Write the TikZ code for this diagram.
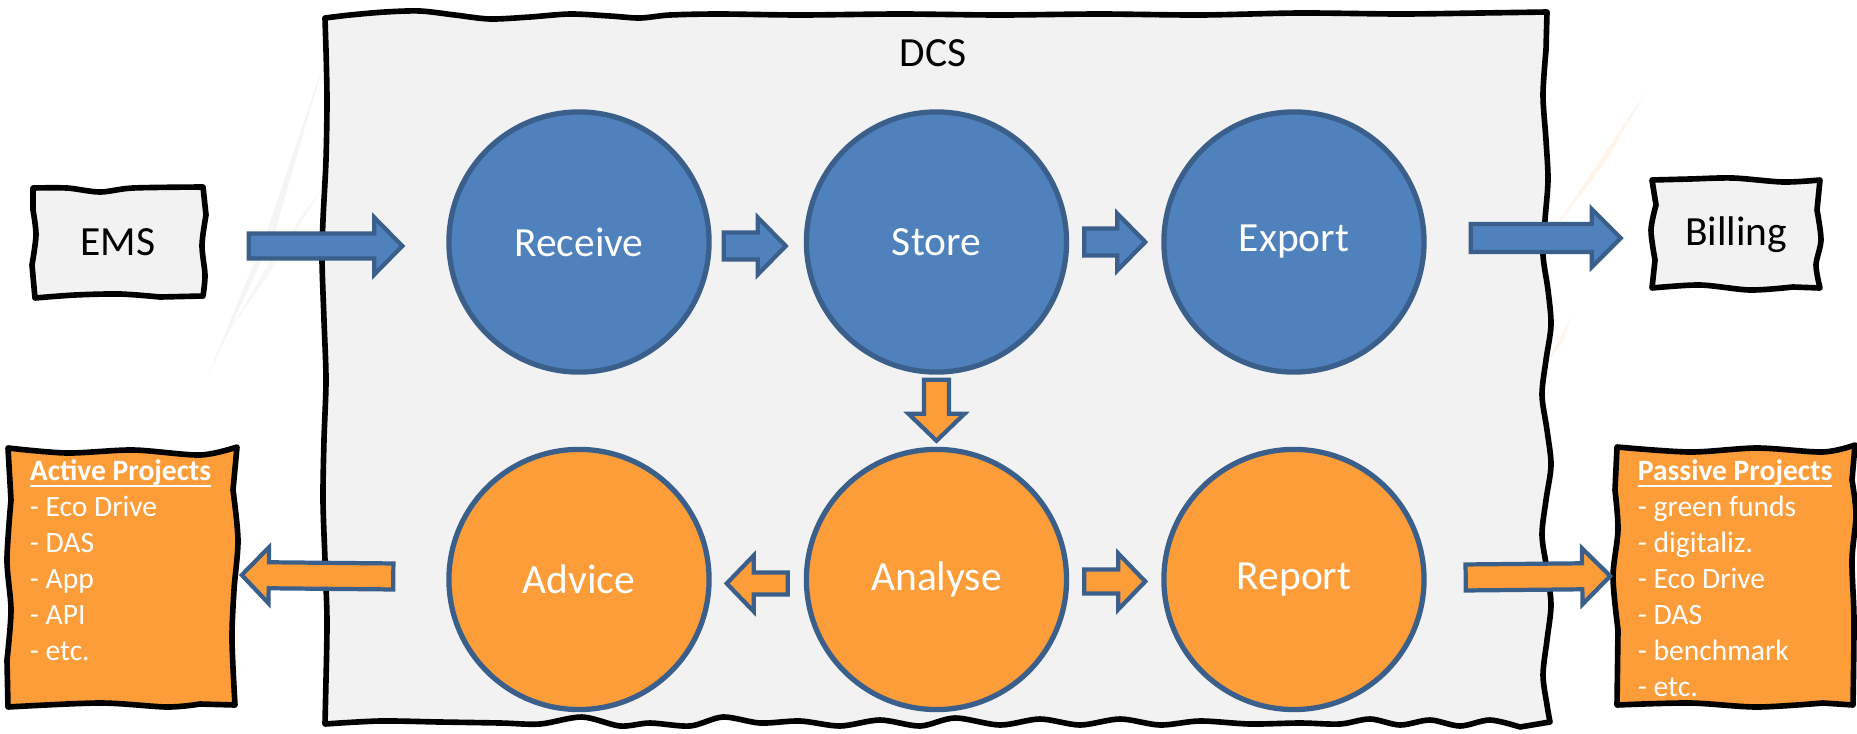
\documentclass[tikz,border=0pt]{standalone}
\usepackage{fontspec}
\setmainfont{Carlito}
\usetikzlibrary{positioning,calc}

\definecolor{paper}{HTML}{F2F2F2}
\definecolor{accblue}{HTML}{4F81BD}
\definecolor{darkblue}{HTML}{3A5F8B}
\definecolor{accorange}{RGB}{253,157,58}

\tikzset{
  sketch/.style={draw=black, line width=1.6pt, line join=round, line cap=round},
  proc/.style={circle, draw=darkblue, line width=1.5pt, minimum size=2.6cm, inner sep=0pt, text=white, font=\fontsize{11.8}{14}\selectfont},
  blueproc/.style={proc, fill=accblue},
  orangeproc/.style={proc, fill=accorange},
  boxtxt/.style={inner sep=0pt, font=\fontsize{11.8}{14}\selectfont},
  listtxt/.style={anchor=north west, inner sep=0pt, align=left, text=white, font=\fontsize{8.4}{10.2}\selectfont},
  bluearr/.style={fill=accblue, draw=darkblue, line width=1.2pt},
  orangearr/.style={fill=accorange, draw=darkblue, line width=1.2pt}
}

% block arrow: style, tail, tip, half shaft, half head, head length
\newcommand{\fatarrow}[6]{%
  \coordinate (fa-h) at ($(#3)!#6!(#2)$);
  \filldraw[#1] ($(#2)!#4!90:(#3)$) -- ($(fa-h)!#4!90:(#3)$) -- ($(fa-h)!#5!90:(#3)$) -- (#3)
    -- ($(fa-h)!#5!-90:(#3)$) -- ($(fa-h)!#4!-90:(#3)$) -- ($(#2)!#4!-90:(#3)$) -- cycle;}

\begin{document}
\begin{tikzpicture}[x=0.01cm, y=-0.01cm]
\useasboundingbox (0,0) rectangle (1857,733);

% faint streaks behind
\fill[black!4] (207,378) -- (268,228) -- (324,62) -- (275,232) -- cycle;
\fill[black!3] (228,333) -- (272,258) -- (324,185) -- (277,262) -- cycle;
\fill[accorange!10] (1549,236) -- (1600,160) -- (1646,92) -- (1605,163) -- cycle;
\fill[accorange!10] (1547,362) -- (1560,338) -- (1571,316) -- (1563,342) -- cycle;

% DCS frame
\draw[sketch, fill=paper]
  plot[smooth] coordinates {(325,18) (350,15) (385,12) (420,11) (455,15) (490,19) (530,17) (570,14) (610,16) (640,18) (670,15) (720,14) (800,15) (900,14) (1000,15) (1100,14) (1200,15) (1300,13) (1400,14) (1480,13) (1547,12)}
  -- plot[smooth] coordinates {(1546,50) (1543,95) (1546,140) (1548,180) (1545,220) (1543,255) (1548,290) (1551,325) (1546,360) (1542,395) (1547,430) (1551,465) (1546,500) (1542,535) (1547,570) (1551,605) (1547,640) (1543,675) (1547,705) (1550,722)}
  -- plot[smooth] coordinates {(1520,727) (1490,720) (1460,726) (1430,720) (1400,725) (1370,719) (1340,724) (1300,723) (1250,724) (1200,721) (1160,725) (1120,719) (1080,725) (1040,719) (1000,725) (955,718) (920,726) (880,720) (840,726) (800,721) (760,723) (723,717) (690,726) (650,723) (620,726) (582,717) (540,724) (500,723) (440,722) (380,721) (325,724)}
  -- plot[smooth] coordinates {(326,680) (327,620) (325,560) (323,500) (324,440) (326,380) (324,320) (322,260) (323,220) (326,160) (327,100) (326,50)} -- cycle;
\node[boxtxt] (dcs) at (933,53) {DCS};

% outside boxes
\draw[sketch, fill=paper]
  plot[smooth] coordinates {(33,188) (67,188) (100,192) (133,188) (203,187)}
  -- plot[smooth] coordinates {(206,215) (202,245) (205,275) (203,296)}
  -- plot[smooth] coordinates {(160,297) (120,294) (75,295) (35,298)}
  -- plot[smooth] coordinates {(32,265) (36,235) (33,210)} -- cycle;
\node[boxtxt, minimum width=1.7cm, minimum height=1.1cm] (ems) at (118,242) {EMS};

\draw[sketch, fill=paper]
  plot[smooth] coordinates {(1652,180) (1690,179) (1733,178) (1783,182) (1820,180)}
  -- plot[smooth] coordinates {(1817,210) (1821,240) (1816,265) (1820,288)}
  -- plot[smooth] coordinates {(1793,287) (1750,290) (1700,285) (1652,288)}
  -- plot[smooth] coordinates {(1655,260) (1651,230) (1656,205)} -- cycle;
\node[boxtxt, minimum width=1.69cm, minimum height=1.1cm] (bill) at (1736,235) {Billing};

\draw[sketch, fill=accorange]
  plot[smooth] coordinates {(8,448) (67,453) (133,450) (200,455) (237,447)}
  -- plot[smooth] coordinates {(233,490) (238,540) (234,590) (232,640) (235,705)}
  -- plot[smooth] coordinates {(200,704) (167,707) (100,703) (8,707)}
  -- plot[smooth] coordinates {(7,660) (11,610) (7,560) (11,500)} -- cycle;
\node[minimum width=2.3cm, minimum height=2.6cm] (act) at (123,577) {};
\node[listtxt] (actl) at ($(act.north west)+(22,34)$) {\underline{\smash{\textbf{Active Projects}}}\\- Eco Drive\\- DAS\\- App\\- API\\- etc.};

\draw[sketch, fill=accorange]
  plot[smooth] coordinates {(1617,447) (1690,452) (1757,448) (1823,452) (1855,445)}
  -- plot[smooth] coordinates {(1852,480) (1856,515) (1852,560) (1854,620) (1853,705)}
  -- plot[smooth] coordinates {(1823,703) (1757,707) (1690,703) (1617,705)}
  -- plot[smooth] coordinates {(1618,630) (1613,577) (1618,530) (1615,490)} -- cycle;
\node[minimum width=2.38cm, minimum height=2.62cm] (pas) at (1736,576) {};
\node[listtxt] (pasl) at ($(pas.north west)+(21,36)$) {\underline{\smash{\textbf{Passive Projects}}}\\- green funds\\- digitaliz.\\- Eco Drive\\- DAS\\- benchmark\\- etc.};

% processes
\node[blueproc] (receive) at (579,242) {Receive};
\node[blueproc, right=0.92cm of receive] (store) {Store};
\node[blueproc, right=0.92cm of store] (export) {Export};
\node[orangeproc, below=0.72cm of store] (analyse) {Analyse};
\node[orangeproc, left=0.92cm of analyse] (advice) {Advice};
\node[orangeproc, right=0.92cm of analyse] (report) {Report};

% arrows
\coordinate (a1) at ($(ems.east)+(45,4)$);
\coordinate (b1) at ($(receive.west)+(-44,4)$);
\fatarrow{bluearr}{a1}{b1}{0.125cm}{0.285cm}{0.28cm}
\coordinate (a2) at ($(receive.east)+(12,4)$);
\coordinate (b2) at ($(store.west)+(-18,4)$);
\fatarrow{bluearr}{a2}{b2}{0.135cm}{0.285cm}{0.28cm}
\coordinate (a3) at ($(store.east)+(15,0)$);
\coordinate (b3) at ($(export.west)+(-16,0)$);
\fatarrow{bluearr}{a3}{b3}{0.135cm}{0.285cm}{0.28cm}
\coordinate (a4) at ($(export.east)+(44,-4)$);
\coordinate (b4) at ($(bill.west)+(-30,3)$);
\fatarrow{bluearr}{a4}{b4}{0.14cm}{0.29cm}{0.29cm}

\coordinate (a5) at ($(store.south)+(0,5)$);
\coordinate (b5) at ($(analyse.north)+(0,-6)$);
\fatarrow{orangearr}{a5}{b5}{0.125cm}{0.28cm}{0.27cm}
\coordinate (a6) at ($(analyse.east)+(15,2)$);
\coordinate (b6) at ($(report.west)+(-16,2)$);
\fatarrow{orangearr}{a6}{b6}{0.12cm}{0.28cm}{0.27cm}
\coordinate (a7) at ($(analyse.west)+(-16,4)$);
\coordinate (b7) at ($(advice.east)+(15,4)$);
\fatarrow{orangearr}{a7}{b7}{0.11cm}{0.28cm}{0.27cm}
\coordinate (a8) at ($(advice.west)+(-53,-3)$);
\coordinate (b8) at ($(act.east)+(3,-2)$);
\fatarrow{orangearr}{a8}{b8}{0.13cm}{0.28cm}{0.27cm}
\coordinate (a9) at ($(report.east)+(39,-2)$);
\coordinate (b9) at ($(pas.west)+(-6,0)$);
\fatarrow{orangearr}{a9}{b9}{0.13cm}{0.28cm}{0.28cm}
\end{tikzpicture}
\end{document}
